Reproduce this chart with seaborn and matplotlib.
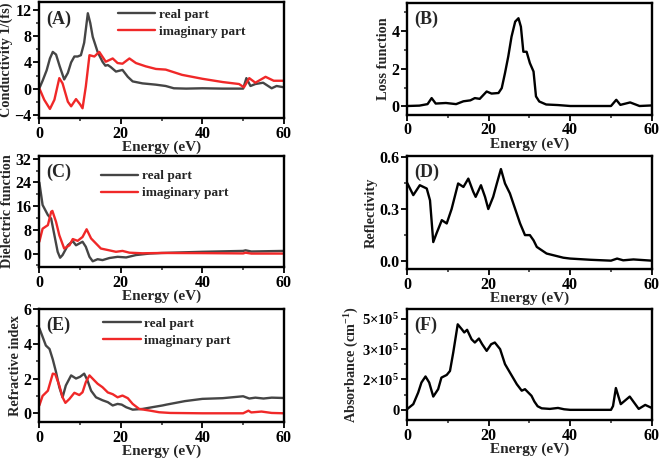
import numpy as np
import matplotlib
matplotlib.use("Agg")
import matplotlib.pyplot as plt
import seaborn as sns
from matplotlib.ticker import MultipleLocator, FixedLocator, FuncFormatter

# ---- data ----
# (A) optical conductivity
cond_real_e = [0, 0.8, 1.8, 2.6, 3.3, 4.1, 5.0, 6.1, 7.0, 7.8, 8.6, 9.4, 10.2, 11.0, 11.9, 12.5, 13.1,
               14.3, 15.5, 16.2, 16.8, 17.5, 18.8, 20.4, 21.7, 22.9, 25.3, 28.6, 31.0, 33.0, 36, 40, 45,
               50.0, 50.8, 51.8, 53, 54.9, 57.0, 58.2, 60]
cond_real = [0.05, 1.2, 2.8, 4.6, 5.6, 5.2, 3.4, 1.4, 2.4, 4.0, 4.9, 4.9, 5.1, 7.0, 11.5, 10.0, 7.9,
             5.6, 4.1, 3.5, 3.6, 3.3, 2.6, 2.85, 1.8, 1.1, 0.8, 0.6, 0.4, 0.05, 0.0, 0.05, 0.0,
             0.0, 1.6, 0.4, 0.7, 0.9, 0.05, 0.4, 0.2]
cond_imag_e = [0, 1.2, 2.6, 3.7, 4.9, 5.7, 7.0, 7.8, 9.0, 10.0, 10.6, 11.4, 12.3, 13.5, 14.7, 16.3,
               18.0, 19.2, 20.4, 22.1, 23.7, 26.1, 28.6, 31, 35, 40, 45, 49, 50.2, 51.5, 53, 55.5, 57.5, 60]
cond_imag = [0.05, -1.7, -3.1, -1.7, 1.6, 0.8, -2.0, -2.7, -1.6, -2.4, -3.0, 0.3, 5.1, 4.9, 5.6, 4.1,
             4.6, 3.9, 3.8, 4.6, 3.9, 3.4, 3.0, 2.9, 2.1, 1.5, 1.0, 0.7, 0.2, 1.6, 0.9, 1.8, 1.2, 1.2]

# (B) loss function
loss_e = [0, 3, 5.0, 6.0, 7.0, 9.5, 12, 13.8, 15.5, 16.6, 17.8, 19.5, 20.7, 22.4, 23.2, 24.0, 24.8,
          25.6, 26.5, 27.3, 27.9, 28.5, 29.3, 30.1, 31.0, 31.6, 32.4, 34.1, 37, 40, 50, 51.3, 52.3,
          54.7, 57, 60]
loss = [0.02, 0.04, 0.12, 0.44, 0.15, 0.18, 0.12, 0.27, 0.32, 0.44, 0.40, 0.79, 0.68, 0.71, 0.97,
        1.77, 2.65, 3.7, 4.5, 4.68, 4.23, 2.9, 2.9, 2.3, 1.85, 0.53, 0.26, 0.1, 0.07, 0.02, 0.02,
        0.35, 0.08, 0.21, 0.02, 0.05]

# (C) dielectric function
diel_real_e = [0, 0.8, 2.1, 2.9, 3.7, 4.5, 5.1, 5.7, 7.0, 8.2, 9.0, 10.6, 11.4, 12.3, 13.1, 14.3,
               15.5, 17.2, 19.2, 21.3, 23.7, 27, 30, 40, 50, 50.6, 52, 60]
diel_real = [24, 16.4, 13, 11.8, 6.2, 0.6, -1.4, -0.5, 2.8, 4.2, 2.8, 4.0, 2.3, -1.1, -2.6, -1.9,
             -2.2, -1.5, -1.1, -1.3, -0.5, 0, 0.2, 0.6, 0.9, 1.1, 0.7, 0.9]
diel_imag_e = [0, 0.8, 2.1, 2.9, 3.2, 4.1, 4.9, 6.1, 7.4, 8.2, 9.4, 10.6, 11.6, 12.7, 13.9, 15.1,
               16.8, 18.8, 20.4, 22.1, 25.3, 30, 40, 50, 50.6, 52, 60]
diel_imag = [4.0, 8.4, 9.6, 14.1, 14.4, 10.7, 6.2, 1.7, 2.8, 4.9, 4.3, 5.6, 8.2, 5.1, 3.4, 1.7,
             1.2, 0.6, 0.9, 0.3, 0.1, 0.2, 0.15, 0.05, 0.3, 0.0, 0.0]

# (D) reflectivity
refl_e = [0, 1.5, 3.1, 4.8, 5.6, 6.4, 7.2, 8.5, 9.7, 10.9, 12.5, 13.8, 15.0, 16.2, 16.8, 18.1, 19.1,
          19.9, 21.1, 22.0, 23.0, 24.0, 25.2, 26.5, 27.7, 28.9, 30.1, 31.0, 31.8, 34.2, 38.3, 40, 45,
          50, 51.5, 53, 55.5, 60]
refl = [0.45, 0.38, 0.437, 0.418, 0.35, 0.11, 0.16, 0.236, 0.217, 0.30, 0.447, 0.427, 0.475, 0.40,
        0.37, 0.437, 0.37, 0.30, 0.37, 0.447, 0.53, 0.447, 0.39, 0.30, 0.217, 0.15, 0.15, 0.12, 0.082,
        0.044, 0.02, 0.015, 0.008, 0.003, 0.015, 0.005, 0.01, 0.003]

# (E) refractive index
n_real_e = [0, 0.8, 1.6, 2.5, 3.3, 4.1, 4.9, 5.7, 6.5, 7.8, 9.0, 10.0, 11.0, 11.8, 12.7, 13.9, 15.5,
            16.8, 18.0, 19.2, 20.2, 21.3, 22.9, 25.3, 27.7, 30.2, 31.2, 35.7, 40, 45, 50, 51.5, 53,
            55, 57, 60]
n_real = [4.9, 4.4, 3.9, 3.7, 3.1, 2.37, 1.5, 0.92, 1.6, 2.18, 2.0, 2.1, 2.28, 1.9, 1.3, 0.92, 0.75,
          0.64, 0.45, 0.54, 0.5, 0.35, 0.21, 0.25, 0.35, 0.45, 0.5, 0.7, 0.83, 0.87, 0.98, 0.85, 0.9,
          0.85, 0.9, 0.88]
n_imag_e = [0, 0.8, 2.1, 3.3, 3.9, 4.9, 5.7, 6.4, 7.4, 8.6, 9.8, 10.6, 11.4, 12.3, 13.5, 14.3, 15.5,
            16.8, 18.0, 19.2, 20.4, 21.7, 22.9, 24.5, 27.0, 29.4, 32.1, 40, 50, 51.3, 52, 54.5, 57, 60]
n_imag = [0.45, 1.0, 1.3, 2.28, 2.25, 1.6, 0.92, 0.6, 0.83, 1.18, 1.05, 1.21, 1.79, 2.18, 1.89, 1.7,
          1.5, 1.2, 1.1, 0.92, 1.02, 0.87, 0.54, 0.25, 0.16, 0.06, 0.02, 0.0, 0.0, 0.15, 0.05, 0.1,
          0.02, 0.0]

# (F) absorbance, in units of 1e5 cm^-1
abs_e = [0, 1.5, 2.7, 3.5, 4.5, 5.4, 6.4, 7.6, 8.4, 9.7, 10.5, 11.3, 12.4, 13.4, 14.0, 14.7, 15.8,
         16.6, 17.6, 18.4, 19.5, 20.6, 21.5, 22.8, 24.0, 25.2, 26.9, 28.1, 28.9, 30.5, 31.2, 32, 33,
         35, 37, 38.5, 40, 50, 50.5, 51.2, 52.4, 54.6, 56.8, 58.4, 60]
absorb = [0.04, 0.30, 0.91, 1.44, 1.76, 1.44, 0.70, 1.09, 1.70, 1.84, 2.05, 3.02, 4.51, 4.25, 4.08,
          4.22, 3.72, 3.55, 3.76, 3.46, 3.11, 3.46, 3.55, 3.20, 2.41, 1.97, 1.35, 1.01, 1.09, 0.74,
          0.44, 0.19, 0.08, 0.05, 0.1, 0.03, 0.0, 0.0, 0.2, 1.15, 0.30, 0.70, 0.05, 0.26, 0.1]

GRAY = "#454545"
RED = "#f02828"
LW = 1.7

sns.set_theme(style="ticks")
plt.rcParams["font.family"] = ["Liberation Serif", "DejaVu Serif"]
plt.rcParams["font.weight"] = "bold"
plt.rcParams["axes.labelweight"] = "bold"
plt.rcParams["mathtext.fontset"] = "custom"
plt.rcParams["mathtext.rm"] = "Liberation Serif:bold"
plt.rcParams["mathtext.it"] = "Liberation Serif:bold"
plt.rcParams["mathtext.bf"] = "Liberation Serif:bold"

fig = plt.figure(figsize=(6.61, 4.65), dpi=100)

rects = {
    "A": [0.0595, 0.746, 0.370, 0.2495],
    "B": [0.616, 0.753, 0.370, 0.241],
    "C": [0.0595, 0.426, 0.370, 0.239],
    "D": [0.616, 0.4215, 0.370, 0.243],
    "E": [0.0595, 0.0925, 0.370, 0.243],
    "F": [0.616, 0.097, 0.370, 0.239],
}
axes = {k: fig.add_axes(r) for k, r in rects.items()}


def style_axis(ax, tag, ylabel, ylim, ymajor, yminor, ysize=11.5):
    ax.set_xlim(0, 60)
    ax.set_ylim(*ylim)
    ax.xaxis.set_major_locator(MultipleLocator(20))
    ax.xaxis.set_minor_locator(MultipleLocator(10))
    if ymajor is not None:
        ax.yaxis.set_major_locator(MultipleLocator(ymajor))
        ax.yaxis.set_minor_locator(MultipleLocator(yminor))
    for sp in ax.spines.values():
        sp.set_visible(True)
        sp.set_linewidth(1.7)
        sp.set_color("black")
    ax.tick_params(which="major", direction="out", length=4, width=1.3, labelsize=11.5,
                   pad=1.5, colors="black")
    ax.tick_params(axis="y", which="major", labelsize=ysize)
    ax.tick_params(which="minor", direction="out", length=2.5, width=1.1)
    ax.set_xlabel("Energy (eV)", fontsize=11, fontweight="bold", labelpad=-1)
    ax.set_ylabel(ylabel, fontsize=10.3, fontweight="bold", labelpad=1)
    ax.text(0.03, 0.93, f"({tag})", transform=ax.transAxes, fontsize=13,
            fontweight="bold", va="top", ha="left")


def two_curves(ax, e1, v1, e2, v2, anchor):
    sns.lineplot(x=e1, y=v1, ax=ax, color=GRAY, lw=LW, label="real part", sort=False)
    sns.lineplot(x=e2, y=v2, ax=ax, color=RED, lw=LW, label="imaginary part", sort=False)
    leg = ax.legend(loc="upper left", bbox_to_anchor=anchor, frameon=False,
                    prop={"weight": "bold", "size": 9.6}, handlelength=2.8,
                    handletextpad=0.25, labelspacing=0.35, borderaxespad=0)
    return leg


ax = axes["A"]
two_curves(ax, cond_real_e, cond_real, cond_imag_e, cond_imag, (0.3, 0.99))
style_axis(ax, "A", "Conductivity 1/(fs)", (-4.5, 13.2), 4, 2)

ax = axes["B"]
sns.lineplot(x=loss_e, y=loss, ax=ax, color="black", lw=LW)
style_axis(ax, "B", "Loss function", (-0.45, 5.5), 2, 1)

ax = axes["C"]
two_curves(ax, diel_real_e, diel_real, diel_imag_e, diel_imag, (0.23, 0.92))
style_axis(ax, "C", "Dielectric function", (-4.5, 33), 8, 4)

ax = axes["D"]
sns.lineplot(x=refl_e, y=refl, ax=ax, color="black", lw=LW)
style_axis(ax, "D", "Reflectivity", (-0.045, 0.605), 0.3, 0.15)
ax.yaxis.set_major_formatter(FuncFormatter(lambda v, p: f"{v:.1f}"))

ax = axes["E"]
two_curves(ax, n_real_e, n_real, n_imag_e, n_imag, (0.24, 0.97))
style_axis(ax, "E", "Refractive index", (-0.5, 6.0), 2, 1)

ax = axes["F"]
sns.lineplot(x=abs_e, y=np.array(absorb) * 1e5, ax=ax, color="black", lw=LW)
style_axis(ax, "F", "Absorbance (cm$^{-1}$)", (-0.53e5, 5.33e5), None, None, ysize=10.5)
ax.yaxis.set_major_locator(FixedLocator([0, 1.6e5, 3.2e5, 4.8e5]))
ax.yaxis.set_minor_locator(FixedLocator([0.8e5, 2.4e5, 4.0e5]))
ax.yaxis.set_major_formatter(FuncFormatter(
    lambda v, p: "0" if abs(v) < 1 else r"$%d{\times}10^5$" % round(v / 1e5)))

fig.savefig("out.png", dpi=100)
